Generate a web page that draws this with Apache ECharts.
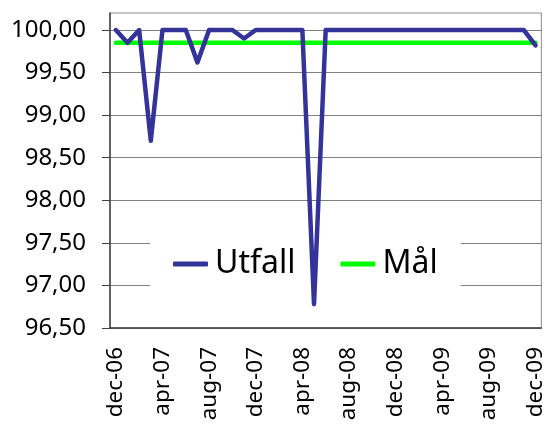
<!DOCTYPE html>
<html>
<head>
<meta charset="utf-8">
<script src="https://cdn.jsdelivr.net/npm/echarts@6/dist/echarts.min.js"></script>
<style>
  html, body { margin: 0; padding: 0; background: #fff; }
  #chart { width: 547px; height: 430px; }
</style>
</head>
<body>
<div id="chart"></div>
<script>
// Monthly availability, Dec 2006 – Dec 2009
const months = [
  'dec-06', 'jan-07', 'feb-07', 'mar-07', 'apr-07', 'mai-07', 'jun-07', 'jul-07',
  'aug-07', 'sep-07', 'okt-07', 'nov-07', 'dec-07', 'jan-08', 'feb-08', 'mar-08',
  'apr-08', 'mai-08', 'jun-08', 'jul-08', 'aug-08', 'sep-08', 'okt-08', 'nov-08',
  'dec-08', 'jan-09', 'feb-09', 'mar-09', 'apr-09', 'mai-09', 'jun-09', 'jul-09',
  'aug-09', 'sep-09', 'okt-09', 'nov-09', 'dec-09'
];

const utfall = [
  100.00, 99.85, 100.00, 98.70, 100.00, 100.00, 100.00, 99.62,
  100.00, 100.00, 100.00, 99.90, 100.00, 100.00, 100.00, 100.00,
  100.00, 96.78, 100.00, 100.00, 100.00, 100.00, 100.00, 100.00,
  100.00, 100.00, 100.00, 100.00, 100.00, 100.00, 100.00, 100.00,
  100.00, 100.00, 100.00, 100.00, 99.82
];

const maal = months.map(() => 99.85);

const yTicks = [96.5, 97.0, 97.5, 98.0, 98.5, 99.0, 99.5, 100.0];

const FONT = '"Noto Sans", sans-serif';

const chart = echarts.init(document.getElementById('chart'), null, { renderer: 'canvas' });

chart.setOption({
  animation: false,
  backgroundColor: '#ffffff',
  grid: {
    left: 110, right: 4, top: 13, bottom: 102,
    show: true, borderColor: '#8c8c8c', borderWidth: 1
  },
  legend: {
    left: 150, top: 238,
    z: 1,
    padding: [10, 23, 10, 23],
    backgroundColor: '#ffffff',
    itemWidth: 35, itemHeight: 5, itemGap: 45,
    icon: 'roundRect',
    textStyle: { fontFamily: FONT, fontSize: 32, color: '#000', lineHeight: 32, padding: [0, 0, 0, 2] },
    data: ['Utfall', 'Mål']
  },
  xAxis: {
    type: 'category',
    data: months,
    boundaryGap: true,
    axisLine: { lineStyle: { color: '#404040', width: 1.5 } },
    axisTick: { interval: 3, length: 7, lineStyle: { color: '#404040' } },
    axisLabel: {
      interval: 3, rotate: 90, margin: 19,
      fontFamily: FONT, fontSize: 22.5, color: '#000'
    },
    splitLine: { show: false }
  },
  yAxis: {
    type: 'value',
    min: 96.5, max: 100.2, interval: 0.5,
    axisLine: { show: true, lineStyle: { color: '#404040', width: 1.5 } },
    axisTick: { show: true, length: 8, customValues: yTicks, lineStyle: { color: '#404040' } },
    axisLabel: {
      customValues: yTicks, margin: 24,
      fontFamily: FONT, fontSize: 24, color: '#000',
      formatter: v => v.toFixed(2).replace('.', ',')
    },
    splitLine: { show: true, lineStyle: { color: '#808080', width: 1 } }
  },
  series: [
    {
      name: 'Utfall', type: 'line', data: utfall, z: 4,
      symbol: 'none', color: '#333399',
      lineStyle: { width: 4.5, cap: 'round', join: 'round' }
    },
    {
      name: 'Mål', type: 'line', data: maal, z: 3,
      symbol: 'none', color: '#00ff00',
      lineStyle: { width: 4.5, cap: 'round', join: 'round' }
    }
  ]
});
</script>
</body>
</html>
